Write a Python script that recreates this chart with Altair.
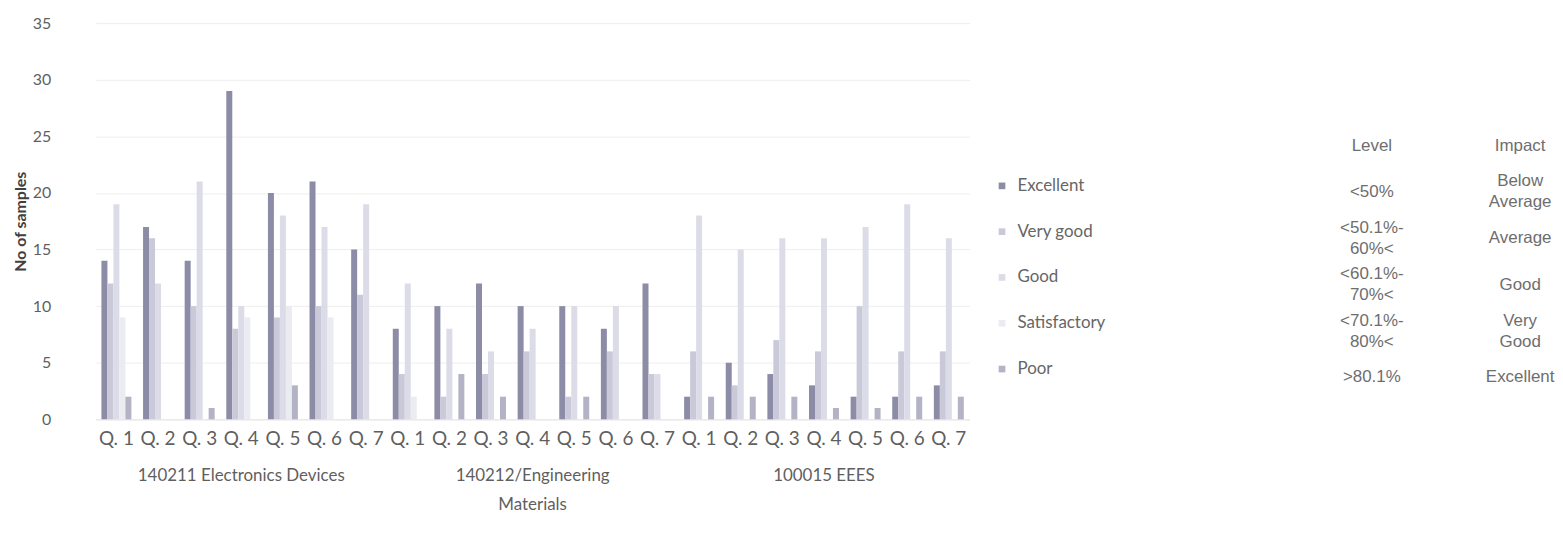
import altair as alt
import pandas as pd

courses = ["140211 Electronics Devices", "140212/Engineering\nMaterials", "100015 EEES"]
questions = ["Q. 1", "Q. 2", "Q. 3", "Q. 4", "Q. 5", "Q. 6", "Q. 7"]
series = ["Excellent", "Very good", "Good", "Satisfactory", "Poor"]
colors = ["#8c8ca6", "#c9c9da", "#dcdce8", "#ebebf2", "#b3b3c5"]

excellent    = [14, 17, 14, 29, 20, 21, 15,   8, 10, 12, 10, 10,  8, 12,   2,  5,  4,  3,  2,  2,  3]
very_good    = [12, 16, 10,  8,  9, 10, 11,   4,  2,  4,  6,  2,  6,  4,   6,  3,  7,  6, 10,  6,  6]
good         = [19, 12, 21, 10, 18, 17, 19,  12,  8,  6,  8, 10, 10,  4,  18, 15, 16, 16, 17, 19, 16]
satisfactory = [ 9,  0,  0,  9, 10,  9,  0,   2,  0,  0,  0,  0,  0,  0,   0,  0,  0,  0,  0,  0,  0]
poor         = [ 2,  0,  1,  0,  3,  0,  0,   0,  4,  2,  0,  2,  0,  0,   2,  2,  2,  1,  1,  2,  2]

level_col  = ["Level", "<50%", "<50.1%-\n60%<", "<60.1%-\n70%<", "<70.1%-\n80%<", ">80.1%"]
impact_col = ["Impact", "Below\nAverage", "Average", "Good", "Very\nGood", "Excellent"]

all_series = [excellent, very_good, good, satisfactory, poor]
keys = []
rows = []
for ci, c in enumerate(courses):
    for qi, q in enumerate(questions):
        idx = ci * 7 + qi
        key = f"{ci}|{q}"
        keys.append(key)
        for s, vals in zip(series, all_series):
            rows.append({"key": key, "series": s, "value": vals[idx]})
df = pd.DataFrame(rows)

course_df = pd.DataFrame({"key": [f"{ci}|Q. 4" for ci in range(3)], "course": courses})

table_rows = []
for ri in range(len(level_col)):
    table_rows.append({"col": "Level", "row": ri, "text": level_col[ri]})
    table_rows.append({"col": "Impact", "row": ri, "text": impact_col[ri]})
table_df = pd.DataFrame(table_rows)

FONT = "Lato"
GREY = "#5f5f5f"

xscale = alt.Scale(domain=keys, paddingInner=0.28, paddingOuter=0.14)
xaxis = alt.Axis(
    title=None, labelExpr="split(datum.value, '|')[1]", labelAngle=0,
    labelFontSize=19, labelColor=GREY, labelFont=FONT, labelPadding=10,
    ticks=False, domain=True, domainColor="#e4e4e4", labelOverlap=False, labelBound=False,
)

bars = alt.Chart(df).mark_bar().encode(
    x=alt.X("key:N", scale=xscale, axis=xaxis),
    xOffset=alt.XOffset("series:N", sort=series, scale=alt.Scale(domain=series)),
    y=alt.Y(
        "value:Q",
        scale=alt.Scale(domain=[0, 35]),
        axis=alt.Axis(
            title="No of samples", values=[0, 5, 10, 15, 20, 25, 30, 35],
            labelFontSize=16, labelColor=GREY, labelFont=FONT, labelPadding=45,
            titleFontSize=16, titleFont=FONT, titleColor="#404040", titleFontWeight="bold",
            titlePadding=4, ticks=False, domain=False, gridColor="#eeeeee",
        ),
    ),
    color=alt.Color(
        "series:N", sort=series, scale=alt.Scale(domain=series, range=colors),
        legend=alt.Legend(
            title=None, orient="none", legendX=902, legendY=155, symbolType="square",
            symbolSize=45, labelFontSize=17, labelColor="#666666", labelFont=FONT,
            rowPadding=28, labelOffset=7, symbolStrokeWidth=0,
        ),
    ),
)

course_text = alt.Chart(course_df).mark_text(
    baseline="top", align="center", lineBreak="\n", lineHeight=29,
    fontSize=17, font=FONT, color=GREY,
).encode(
    x=alt.X("key:N", scale=xscale, axis=xaxis),
    y=alt.value(447),
    text="course:N",
)

tx = alt.X("col:N", scale=alt.Scale(type="point", domain=["Level", "Impact"], range=[1282, 1431], padding=0), axis=None)
ty = alt.Y("row:O", scale=alt.Scale(type="point", range=[123, 356], padding=0), axis=None)
text_style = dict(align="center", lineBreak="\n", lineHeight=21, fontSize=17,
                  font="Liberation Sans", color="#6e6e6e")

table_single = alt.Chart(table_df).transform_filter(
    "indexof(datum.text, '\\n') < 0"
).mark_text(baseline="middle", **text_style).encode(x=tx, y=ty, text="text:N")

table_multi = alt.Chart(table_df).transform_filter(
    "indexof(datum.text, '\\n') >= 0"
).mark_text(baseline="middle", dy=-10.5, **text_style).encode(x=tx, y=ty, text="text:N")

table = alt.layer(table_single, table_multi)

chart = alt.layer(alt.layer(bars, course_text), table).resolve_scale(
    x="independent", y="independent"
).properties(
    width=878, height=398,
    autosize=alt.AutoSizeParams(type="none"),
    padding={"left": 88, "top": 14, "right": 588, "bottom": 110},
).configure_view(stroke=None)

chart.save("out.html", embed_options={"renderer": "svg", "actions": False})
